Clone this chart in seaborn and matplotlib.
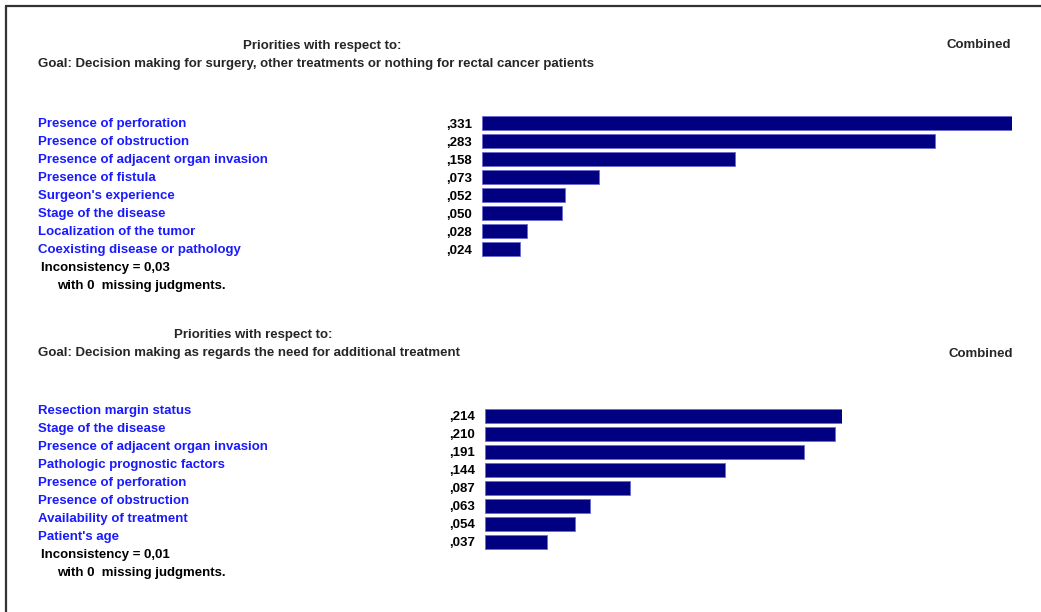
import matplotlib
matplotlib.use("Agg")
import matplotlib.pyplot as plt
import matplotlib.transforms as mtrans
from matplotlib.lines import Line2D
import pandas as pd
import seaborn as sns

sns.set_style("white")
plt.rcParams["font.family"] = ["Liberation Sans", "DejaVu Sans"]
plt.rcParams["font.weight"] = "bold"

# --- data -------------------------------------------------------------
goal_1 = "Goal: Decision making for surgery, other treatments or nothing for rectal cancer patients"
criteria_1 = ["Presence of perforation", "Presence of obstruction",
              "Presence of adjacent organ invasion", "Presence of fistula",
              "Surgeon's experience", "Stage of the disease",
              "Localization of the tumor", "Coexisting disease or pathology"]
weights_1 = [0.331, 0.283, 0.158, 0.073, 0.052, 0.050, 0.028, 0.024]
inconsistency_1 = "0,03"

goal_2 = "Goal: Decision making as regards the need for additional treatment"
criteria_2 = ["Resection margin status", "Stage of the disease",
              "Presence of adjacent organ invasion", "Pathologic prognostic factors",
              "Presence of perforation", "Presence of obstruction",
              "Availability of treatment", "Patient's age"]
weights_2 = [0.214, 0.210, 0.191, 0.144, 0.087, 0.063, 0.054, 0.037]
inconsistency_2 = "0,01"

W, H = 1041, 612
BAR = "#000080"
LABEL = "#1a1aff"
FS = 9.5

fig = plt.figure(figsize=(W / 100, H / 100), dpi=100)


def fx(px):
    return px / W


def fy(py):
    return 1 - py / H


def panel(criteria, weights, goal, incons, x0, x1, y_top, title_x, title_y,
          goal_y, comb_x, comb_y, label_shift):
    n = len(criteria)
    row = 18
    ax = fig.add_axes([fx(x0), fy(y_top + n * row), fx(x1 - x0), n * row / H])
    df = pd.DataFrame({"criterion": criteria, "weight": weights})
    sns.barplot(data=df, x="weight", y="criterion", orient="h", color=BAR,
                width=0.78, edgecolor="#6a6ad0", linewidth=0.6, saturation=1,
                ax=ax)
    ax.set_xlim(0, max(weights))
    ax.set_ylim(n - 0.5, -0.5)
    ax.set_yticks(range(n))
    ax.set_yticklabels([f"{w:.3f}".replace("0.", ",") for w in weights],
                       fontsize=FS, fontweight="bold", color="black")
    ax.tick_params(axis="y", length=0, pad=7)
    ax.set_xticks([])
    ax.set_xlabel("")
    ax.set_ylabel("")
    for s in ax.spines.values():
        s.set_visible(False)

    # criterion names, left aligned, in blue
    tr = mtrans.blended_transform_factory(fig.transFigure, ax.transData)
    tr = tr + mtrans.ScaledTranslation(0, label_shift / 100, fig.dpi_scale_trans)
    for i, c in enumerate(criteria):
        ax.text(fx(38), i, c, transform=tr, color=LABEL, fontsize=FS,
                fontweight="bold", ha="left", va="center")
    last = n - 1
    ax.text(fx(41), last + 1, f"Inconsistency = {incons}", transform=tr,
            color="black", fontsize=FS, fontweight="bold", ha="left", va="center")
    ax.text(fx(57), last + 2, "with 0  missing judgments.", transform=tr,
            color="black", fontsize=FS, fontweight="bold", ha="left", va="center")

    fig.text(fx(title_x), fy(title_y), "Priorities with respect to:",
             fontsize=FS, fontweight="bold", ha="center", va="center")
    fig.text(fx(38), fy(goal_y), goal, fontsize=FS, fontweight="bold",
             ha="left", va="center")
    fig.text(fx(comb_x), fy(comb_y), "Combined", fontsize=FS,
             fontweight="bold", ha="right", va="center")
    return ax


panel(criteria_1, weights_1, goal_1, inconsistency_1, 482, 1012, 114,
      322, 46, 64, 1011, 45, -1)
panel(criteria_2, weights_2, goal_2, inconsistency_2, 485, 842, 407,
      253, 335, 353, 1013, 354, 5)

# window frame (left and top edges)
fig.add_artist(Line2D([fx(5.5), fx(5.5)], [0, fy(5.5)], color="#333333", lw=1.6))
fig.add_artist(Line2D([fx(5.5), 1], [fy(5.5), fy(5.5)], color="#333333", lw=1.6))

fig.savefig("out.png", dpi=100, facecolor="white")
